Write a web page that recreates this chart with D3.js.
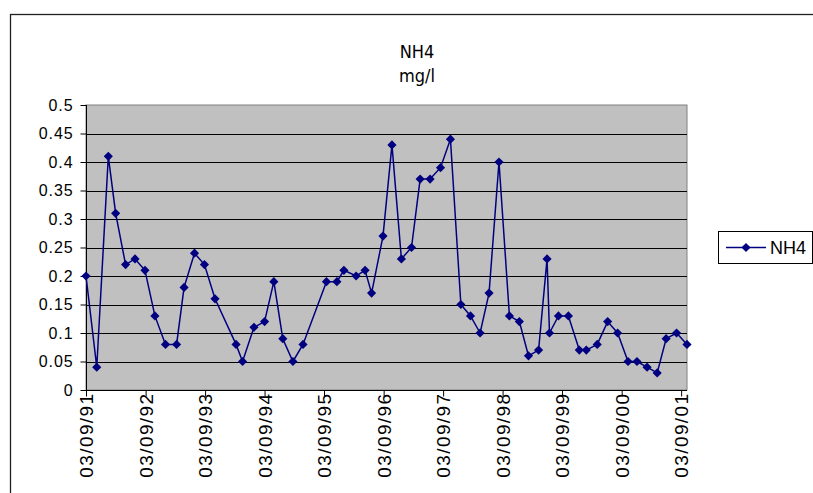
<!DOCTYPE html>
<html>
<head>
<meta charset="utf-8">
<script src="https://cdn.jsdelivr.net/npm/d3@7"></script>
<style>
  body { margin: 0; background: #fff; }
  svg { display: block; }
</style>
</head>
<body>
<div id="chart"></div>
<script>
// sample dates and NH4 values in mg/l
var sampleDates = [
  '1991-09-03', '1991-11-08', '1992-01-18', '1992-03-03', '1992-05-03', '1992-06-30', '1992-08-30', '1992-10-30',
  '1993-01-03', '1993-03-12', '1993-04-27', '1993-06-30', '1993-08-30', '1993-11-03', '1994-03-12', '1994-04-21',
  '1994-06-30', '1994-09-03', '1994-10-30', '1994-12-24', '1995-02-24', '1995-04-27', '1995-09-18', '1995-11-21',
  '1996-01-03', '1996-03-18', '1996-05-12', '1996-06-21', '1996-08-30', '1996-10-24', '1996-12-21', '1997-02-21',
  '1997-04-15', '1997-06-15', '1997-08-18', '1997-10-18', '1997-12-21', '1998-02-18', '1998-04-18', '1998-06-12',
  '1998-08-12', '1998-10-15', '1998-12-15', '1999-02-09', '1999-04-12', '1999-06-03', '1999-06-18', '1999-08-12',
  '1999-10-12', '1999-12-18', '2000-01-30', '2000-04-06', '2000-06-09', '2000-08-09', '2000-10-12', '2000-12-06',
  '2001-02-06', '2001-04-09', '2001-06-03', '2001-08-06', '2001-10-09'
];
var nh4Values = [
  0.20, 0.04, 0.41, 0.31, 0.22, 0.23, 0.21, 0.13,
  0.08, 0.08, 0.18, 0.24, 0.22, 0.16, 0.08, 0.05,
  0.11, 0.12, 0.19, 0.09, 0.05, 0.08, 0.19, 0.19,
  0.21, 0.20, 0.21, 0.17, 0.27, 0.43, 0.23, 0.25,
  0.37, 0.37, 0.39, 0.44, 0.15, 0.13, 0.10, 0.17,
  0.40, 0.13, 0.12, 0.06, 0.07, 0.23, 0.10, 0.13,
  0.13, 0.07, 0.07, 0.08, 0.12, 0.10, 0.05, 0.05,
  0.04, 0.03, 0.09, 0.10, 0.08
];
var yTicks = [0, 0.05, 0.1, 0.15, 0.2, 0.25, 0.3, 0.35, 0.4, 0.45, 0.5];
var tickYears = [1991, 1992, 1993, 1994, 1995, 1996, 1997, 1998, 1999, 2000, 2001];
var seriesName = 'NH4';
var titleLines = ['NH4', 'mg/l'];

var parseDate = d3.timeParse('%Y-%m-%d'),
  formatDate = d3.timeFormat('%d/%m/%y');

var data = sampleDates.map(function (s, i) {
  return { date: parseDate(s), value: nh4Values[i] };
});

var width = 813,
  height = 493,
  plot = { left: 86, right: 687, top: 105, bottom: 390 },
  navy = '#000080';

var x = d3
  .scaleTime()
  .domain(d3.extent(data, function (d) { return d.date; }))
  .range([plot.left, plot.right]);

var y = d3
  .scaleLinear()
  .domain([0, 0.5])
  .range([plot.bottom, plot.top]);

var svg = d3
  .select('#chart')
  .append('svg')
  .attr('width', width)
  .attr('height', height);

// outer chart frame (runs off the right and bottom of the picture)
svg.append('rect')
  .attr('x', 10.5)
  .attr('y', 14.5)
  .attr('width', 830)
  .attr('height', 520)
  .attr('fill', '#fff')
  .attr('stroke', '#222')
  .attr('stroke-width', 1.3);

// title
svg.append('g')
  .selectAll('text')
  .data(titleLines)
  .enter()
  .append('text')
  .attr('x', 417)
  .attr('y', function (d, i) { return 58 + i * 24; })
  .attr('text-anchor', 'middle')
  .style('font-family', '"Liberation Sans Narrow", "DejaVu Sans Condensed", sans-serif')
  .style('font-size', '18px')
  .style('fill', '#000')
  .text(function (d) { return d; });

// plot area
svg.append('rect')
  .attr('x', plot.left)
  .attr('y', plot.top)
  .attr('width', plot.right - plot.left)
  .attr('height', plot.bottom - plot.top)
  .attr('fill', '#c0c0c0')
  .attr('stroke', '#808080')
  .attr('stroke-width', 1);

// gridlines
svg.append('g')
  .selectAll('line')
  .data(yTicks.slice(1, -1))
  .enter()
  .append('line')
  .attr('x1', plot.left)
  .attr('x2', plot.right)
  .attr('y1', function (d) { return Math.round(y(d)) + 0.5; })
  .attr('y2', function (d) { return Math.round(y(d)) + 0.5; })
  .attr('stroke', '#000')
  .attr('stroke-width', 1);

// y axis
var yAxis = svg.append('g')
  .attr('transform', 'translate(' + (plot.left + 0.5) + ',0)')
  .call(d3.axisLeft(y)
    .tickValues(yTicks)
    .tickSize(6)
    .tickPadding(7)
    .tickFormat(function (d) { return +d.toFixed(2); }));

yAxis.select('.domain').attr('stroke', '#000').attr('d', 'M0,' + plot.top + 'V' + plot.bottom);
yAxis.selectAll('line').attr('stroke', '#000');
yAxis.selectAll('text')
  .style('font-family', '"Liberation Sans", Arial, sans-serif')
  .style('font-size', '16px')
  .style('letter-spacing', '0.9px')
  .attr('fill', '#000');

// x axis
var xAxis = svg.append('g')
  .attr('transform', 'translate(0,' + (plot.bottom + 0.5) + ')')
  .call(d3.axisBottom(x)
    .tickValues(tickYears.map(function (yr) { return new Date(yr, 8, 3); }))
    .tickSize(6)
    .tickFormat(formatDate));

xAxis.select('.domain').attr('stroke', '#000').attr('d', 'M' + plot.left + ',0H' + plot.right);
xAxis.selectAll('line').attr('stroke', '#000');
xAxis.selectAll('text')
  .attr('transform', 'rotate(-90)')
  .attr('x', -2)
  .attr('y', 0)
  .attr('dy', '0.35em')
  .attr('text-anchor', 'end')
  .style('font-family', '"Liberation Sans", Arial, sans-serif')
  .style('font-size', '19px')
  .style('letter-spacing', '1.4px')
  .attr('fill', '#000');

// series line and markers
var line = d3
  .line()
  .x(function (d) { return x(d.date); })
  .y(function (d) { return y(d.value); });

svg.append('path')
  .datum(data)
  .attr('d', line)
  .attr('fill', 'none')
  .attr('stroke', navy)
  .attr('stroke-width', 1.5);

var diamond = d3.symbol().type(d3.symbolSquare).size(42);

svg.append('g')
  .selectAll('path')
  .data(data)
  .enter()
  .append('path')
  .attr('d', diamond)
  .attr('transform', function (d) {
    return 'translate(' + x(d.date) + ',' + y(d.value) + ') rotate(45)';
  })
  .attr('fill', navy);

// legend
var legend = svg.append('g');

legend.append('rect')
  .attr('x', 718.5)
  .attr('y', 231.5)
  .attr('width', 94)
  .attr('height', 32)
  .attr('fill', '#fff')
  .attr('stroke', '#000')
  .attr('stroke-width', 1);

legend.append('line')
  .attr('x1', 726)
  .attr('x2', 766)
  .attr('y1', 247.5)
  .attr('y2', 247.5)
  .attr('stroke', navy)
  .attr('stroke-width', 1.5);

legend.append('path')
  .attr('d', diamond)
  .attr('transform', 'translate(746,247.5) rotate(45)')
  .attr('fill', navy);

legend.append('text')
  .attr('x', 770)
  .attr('y', 254)
  .style('font-family', '"Liberation Sans", Arial, sans-serif')
  .style('font-size', '18px')
  .attr('fill', '#000')
  .text(seriesName);
</script>
</body>
</html>
